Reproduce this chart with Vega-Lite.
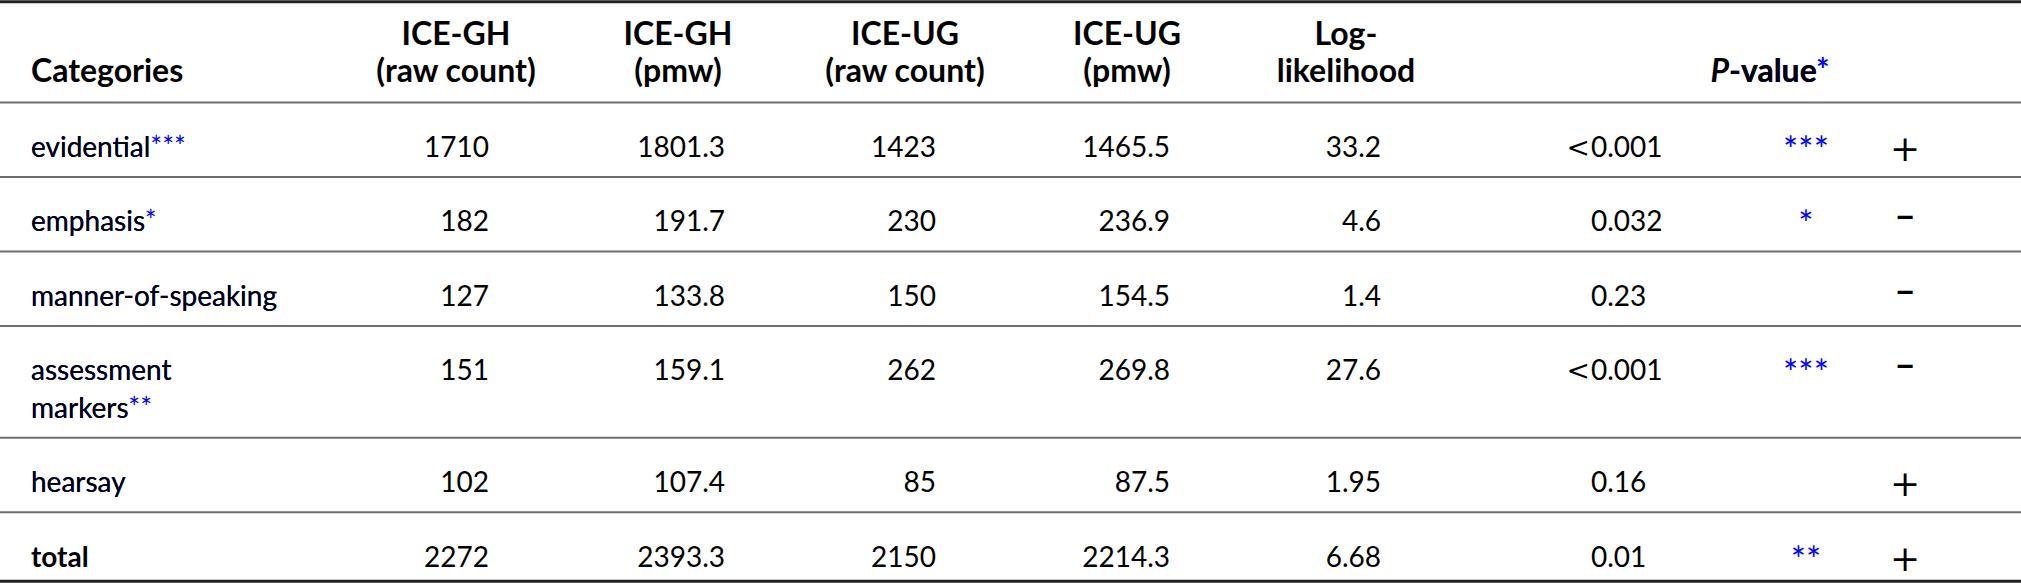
{
  "$schema": "https://vega.github.io/schema/vega-lite/v6.json",
  "width": 2021,
  "height": 584,
  "padding": 0,
  "autosize": {"type": "none"},
  "background": "white",
  "config": {
    "view": {"stroke": null},
    "text": {"font": "Lato", "fontSize": 28, "baseline": "alphabetic", "color": "#000000"}
  },
  "datasets": {
    "header": [
      {"col": 0, "line": -1, "text": "Categories"},
      {"col": 1, "line": -1.5, "text": "ICE-GH"},
      {"col": 1, "line": -1, "text": "(raw count)"},
      {"col": 2, "line": -1.5, "text": "ICE-GH"},
      {"col": 2, "line": -1, "text": "(pmw)"},
      {"col": 3, "line": -1.5, "text": "ICE-UG"},
      {"col": 3, "line": -1, "text": "(raw count)"},
      {"col": 4, "line": -1.5, "text": "ICE-UG"},
      {"col": 4, "line": -1, "text": "(pmw)"},
      {"col": 5, "line": -1.5, "text": "Log-"},
      {"col": 5, "line": -1, "text": "likelihood"},
      {"col": 6, "line": -1, "text": "P", "rest": "-value", "restStar": "-value*"}
    ],
    "rows": [
      {"line": 0, "label": "evidential", "labelStar": "evidential***", "gh_raw": 1710, "gh_pmw": 1801.3, "ug_raw": 1423, "ug_pmw": 1465.5, "ll": 33.2, "lt": "<", "p": 0.001, "sig": "***", "sign": "+"},
      {"line": 1, "label": "emphasis", "labelStar": "emphasis*", "gh_raw": 182, "gh_pmw": 191.7, "ug_raw": 230, "ug_pmw": 236.9, "ll": 4.6, "lt": "", "p": 0.032, "sig": "*", "sign": "−"},
      {"line": 2, "label": "manner-of-speaking", "labelStar": "manner-of-speaking", "gh_raw": 127, "gh_pmw": 133.8, "ug_raw": 150, "ug_pmw": 154.5, "ll": 1.4, "lt": "", "p": 0.23, "sig": "", "sign": "−"},
      {"line": 3, "label": "assessment\nmarkers", "labelStar": "assessment\nmarkers**", "gh_raw": 151, "gh_pmw": 159.1, "ug_raw": 262, "ug_pmw": 269.8, "ll": 27.6, "lt": "<", "p": 0.001, "sig": "***", "sign": "−"},
      {"line": 4.5, "label": "hearsay", "labelStar": "hearsay", "gh_raw": 102, "gh_pmw": 107.4, "ug_raw": 85, "ug_pmw": 87.5, "ll": 1.95, "lt": "", "p": 0.16, "sig": "", "sign": "+"},
      {"line": 5.5, "label": "total", "labelStar": "total", "gh_raw": 2272, "gh_pmw": 2393.3, "ug_raw": 2150, "ug_pmw": 2214.3, "ll": 6.68, "lt": "", "p": 0.01, "sig": "**", "sign": "+"}
    ],
    "rules": [
      {"after": -1.5, "kind": "top"},
      {"after": -1, "kind": "mid"},
      {"after": 0, "kind": "mid"},
      {"after": 1, "kind": "mid"},
      {"after": 2, "kind": "mid"},
      {"after": 3.5, "kind": "mid"},
      {"after": 4.5, "kind": "mid"},
      {"after": 5.5, "kind": "bottom"}
    ]
  },
  "encoding": {
    "y": {
      "field": "line",
      "type": "quantitative",
      "axis": null,
      "scale": {"domain": [-2.107, 5.732], "reverse": true, "nice": false, "zero": false}
    }
  },
  "layer": [
    {
      "data": {"name": "rules"},
      "layer": [
        {
          "transform": [{"filter": "datum.kind == 'mid'"}],
          "mark": {"type": "rule", "color": "#6e6e6e", "strokeWidth": 2, "yOffset": 20},
          "encoding": {"y": {"field": "after", "type": "quantitative", "axis": null}}
        },
        {
          "transform": [{"filter": "datum.kind == 'top'"}],
          "mark": {"type": "rule", "color": "#222222", "strokeWidth": 3, "yOffset": -43.5},
          "encoding": {"y": {"field": "after", "type": "quantitative", "axis": null}}
        },
        {
          "transform": [{"filter": "datum.kind == 'bottom'"}],
          "mark": {"type": "rule", "color": "#222222", "strokeWidth": 3, "yOffset": 14.5},
          "encoding": {"y": {"field": "after", "type": "quantitative", "axis": null}}
        }
      ]
    },
    {
      "data": {"name": "header"},
      "encoding": {
        "x": {
          "field": "col",
          "type": "quantitative",
          "axis": null,
          "scale": {"domain": [0, 1, 2, 3, 4, 5, 6], "range": [31, 456, 678, 905, 1127, 1346, 1729], "nice": false, "zero": false}
        }
      },
      "layer": [
        {
          "transform": [{"filter": "datum.col == 0"}],
          "mark": {"type": "text", "align": "left", "fontWeight": "bold", "fontSize": 32},
          "encoding": {"text": {"field": "text", "type": "nominal"}}
        },
        {
          "transform": [{"filter": "datum.col >= 1 && datum.col <= 5"}],
          "mark": {"type": "text", "align": "center", "fontWeight": "bold", "fontSize": 32},
          "encoding": {"text": {"field": "text", "type": "nominal"}}
        },
        {
          "transform": [{"filter": "datum.col == 6"}],
          "mark": {"type": "text", "align": "right", "fontWeight": "bold", "fontStyle": "italic", "fontSize": 32},
          "encoding": {"text": {"field": "text", "type": "nominal"}}
        },
        {
          "transform": [{"filter": "datum.col == 6"}],
          "mark": {"type": "text", "align": "left", "fontWeight": "bold", "fontSize": 32, "color": "#0000ff"},
          "encoding": {"text": {"field": "restStar", "type": "nominal"}}
        },
        {
          "transform": [{"filter": "datum.col == 6"}],
          "mark": {"type": "text", "align": "left", "fontWeight": "bold", "fontSize": 32},
          "encoding": {"text": {"field": "rest", "type": "nominal"}}
        }
      ]
    },
    {
      "data": {"name": "rows"},
      "layer": [
        {
          "transform": [{"filter": "datum.label != 'total'"}],
          "mark": {"type": "text", "align": "left", "color": "#0000ff", "lineBreak": "\n", "lineHeight": 37.5},
          "encoding": {
            "x": {"datum": 0, "type": "quantitative", "axis": null, "scale": {"domain": [0, 1, 2, 3, 4, 5, 6, 7, 8], "range": [31, 489, 725, 936, 1170, 1381, 1591, 1806, 1905], "nice": false, "zero": false}},
            "text": {"field": "labelStar", "type": "nominal"}
          }
        },
        {
          "transform": [{"filter": "datum.label != 'total'"}],
          "mark": {"type": "text", "align": "left", "lineBreak": "\n", "lineHeight": 37.5},
          "encoding": {
            "x": {"datum": 0, "type": "quantitative"},
            "text": {"field": "label", "type": "nominal"}
          }
        },
        {
          "transform": [{"filter": "datum.label == 'total'"}],
          "mark": {"type": "text", "align": "left", "fontWeight": "bold"},
          "encoding": {
            "x": {"datum": 0, "type": "quantitative"},
            "text": {"field": "label", "type": "nominal"}
          }
        },
        {
          "mark": {"type": "text", "align": "right"},
          "encoding": {
            "x": {"datum": 1, "type": "quantitative"},
            "text": {"field": "gh_raw", "type": "quantitative", "format": "d"}
          }
        },
        {
          "mark": {"type": "text", "align": "right"},
          "encoding": {
            "x": {"datum": 2, "type": "quantitative"},
            "text": {"field": "gh_pmw", "type": "quantitative", "format": ".1f"}
          }
        },
        {
          "mark": {"type": "text", "align": "right"},
          "encoding": {
            "x": {"datum": 3, "type": "quantitative"},
            "text": {"field": "ug_raw", "type": "quantitative", "format": "d"}
          }
        },
        {
          "mark": {"type": "text", "align": "right"},
          "encoding": {
            "x": {"datum": 4, "type": "quantitative"},
            "text": {"field": "ug_pmw", "type": "quantitative", "format": ".1f"}
          }
        },
        {
          "mark": {"type": "text", "align": "right"},
          "encoding": {
            "x": {"datum": 5, "type": "quantitative"},
            "text": {"field": "ll", "type": "quantitative", "format": "~g"}
          }
        },
        {
          "mark": {"type": "text", "align": "right", "font": "DejaVu Serif", "dx": -1},
          "encoding": {
            "x": {"datum": 6, "type": "quantitative"},
            "text": {"field": "lt", "type": "nominal"}
          }
        },
        {
          "mark": {"type": "text", "align": "left"},
          "encoding": {
            "x": {"datum": 6, "type": "quantitative"},
            "text": {"field": "p", "type": "quantitative", "format": "~g"}
          }
        },
        {
          "mark": {"type": "text", "align": "center", "color": "#0000ff", "fontSize": 36, "dy": 6},
          "encoding": {
            "x": {"datum": 7, "type": "quantitative"},
            "text": {"field": "sig", "type": "nominal"}
          }
        },
        {
          "transform": [{"filter": "datum.sign == '+'"}],
          "mark": {"type": "text", "align": "center", "font": "DejaVu Serif", "fontSize": 36, "dy": 4},
          "encoding": {
            "x": {"datum": 8, "type": "quantitative"},
            "text": {"field": "sign", "type": "nominal"}
          }
        },
        {
          "transform": [{"filter": "datum.sign != '+'"}],
          "mark": {"type": "text", "align": "center", "fontSize": 34, "fontWeight": "bold", "dy": -2},
          "encoding": {
            "x": {"datum": 8, "type": "quantitative"},
            "text": {"field": "sign", "type": "nominal"}
          }
        }
      ]
    }
  ],
  "resolve": {"scale": {"x": "independent"}}
}
